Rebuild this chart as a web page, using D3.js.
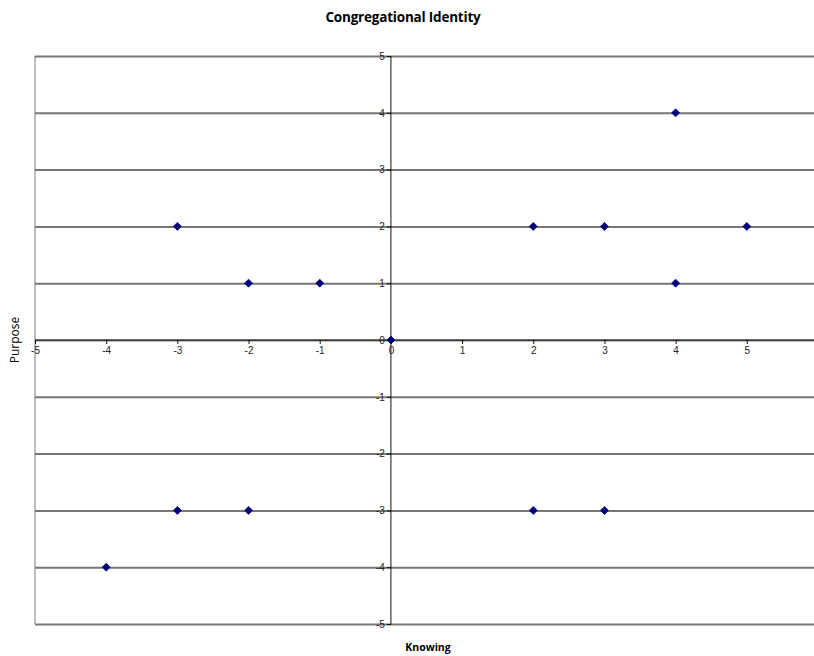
<!DOCTYPE html>
<html>
<head>
<meta charset="utf-8">
<script src="https://cdn.jsdelivr.net/npm/d3@7"></script>
<style>
  body { margin: 0; background: #fff; }
  svg { display: block; }
</style>
</head>
<body>
<svg id="chart" width="814" height="656"></svg>
<script>
// Knowing (x) vs Purpose (y) scores
const knowing = [4, -3, 2, 3, 5, -2, -1, 4, 0, -3, -2, 2, 3, -4];
const purpose = [4, 2, 2, 2, 2, 1, 1, 1, 0, -3, -3, -3, -3, -4];
const xTicks = [-5, -4, -3, -2, -1, 0, 1, 2, 3, 4, 5];
const yTicks = [-5, -4, -3, -2, -1, 0, 1, 2, 3, 4, 5];

const svg = d3.select("#chart");
const plotLeft = 35, plotRight = 818, plotTop = 56, plotBottom = 624;

const x = d3.scaleLinear().domain([-5, 6]).range([plotLeft, plotRight]);
const y = d3.scaleLinear().domain([-5, 5]).range([plotBottom, plotTop]);

// Plain hyphen-minus labels
const fmt = d => String(d);

// Title
svg.append("text")
  .attr("x", 403).attr("y", 22)
  .attr("text-anchor", "middle")
  .style("font-family", "'Open Sans', sans-serif")
  .style("font-weight", "bold")
  .style("font-size", "13.5px")
  .style("letter-spacing", "-0.2px")
  .text("Congregational Identity");

// Plot area left border
svg.append("line")
  .attr("x1", plotLeft).attr("x2", plotLeft)
  .attr("y1", plotTop).attr("y2", plotBottom)
  .attr("stroke", "#bdbdbd").attr("stroke-width", 2);

// Horizontal gridlines
svg.append("g")
  .selectAll("line")
  .data(yTicks)
  .join("line")
  .attr("x1", plotLeft).attr("x2", plotRight)
  .attr("y1", d => y(d) + 0.5).attr("y2", d => y(d) + 0.5)
  .attr("stroke", "#767676").attr("stroke-width", 2);

// Horizontal axis through y = 0
const xAxis = d3.axisBottom(x)
  .tickValues(xTicks)
  .tickSize(4)
  .tickPadding(3)
  .tickFormat(fmt);
const gx = svg.append("g")
  .attr("transform", `translate(0,${y(0)})`)
  .call(xAxis);
gx.select(".domain").attr("stroke", "#111").attr("d", `M${plotLeft},0H${plotRight}`);
gx.selectAll(".tick line").attr("stroke", "#111");
gx.selectAll(".tick text")
  .attr("fill", "#222")
  .style("font-family", "'Liberation Sans', Arial, sans-serif")
  .style("font-size", "10px");

// Vertical axis through x = 0
const yAxis = d3.axisLeft(y)
  .tickValues(yTicks)
  .tickSize(4)
  .tickPadding(2)
  .tickFormat(fmt);
const gy = svg.append("g")
  .attr("transform", `translate(${x(0)},0)`)
  .call(yAxis);
gy.select(".domain").attr("stroke", "#111").attr("d", `M0,${plotTop}V${plotBottom}`);
gy.selectAll(".tick line").attr("stroke", "#111");
gy.selectAll(".tick text")
  .attr("fill", "#222")
  .style("font-family", "'Liberation Sans', Arial, sans-serif")
  .style("font-size", "10px");

// Data markers
const pts = knowing.map((k, i) => ({ k, p: purpose[i] }));
svg.append("g")
  .selectAll("path")
  .data(pts)
  .join("path")
  .attr("transform", d => `translate(${x(d.k)},${y(d.p)})`)
  .attr("d", "M0,-4L4,0L0,4L-4,0Z")
  .attr("fill", "#00007a")
  .attr("stroke", "#00007a")
  .attr("stroke-width", 0.8);

// Axis titles
svg.append("text")
  .attr("x", 428).attr("y", 651)
  .attr("text-anchor", "middle")
  .style("font-family", "'Open Sans', sans-serif")
  .style("font-weight", "bold")
  .style("font-size", "10.5px")
  .text("Knowing");

svg.append("text")
  .attr("transform", "translate(19,340) rotate(-90)")
  .attr("text-anchor", "middle")
  .style("font-family", "'Open Sans', sans-serif")
  .style("font-size", "12px")
  .text("Purpose");
</script>
</body>
</html>
